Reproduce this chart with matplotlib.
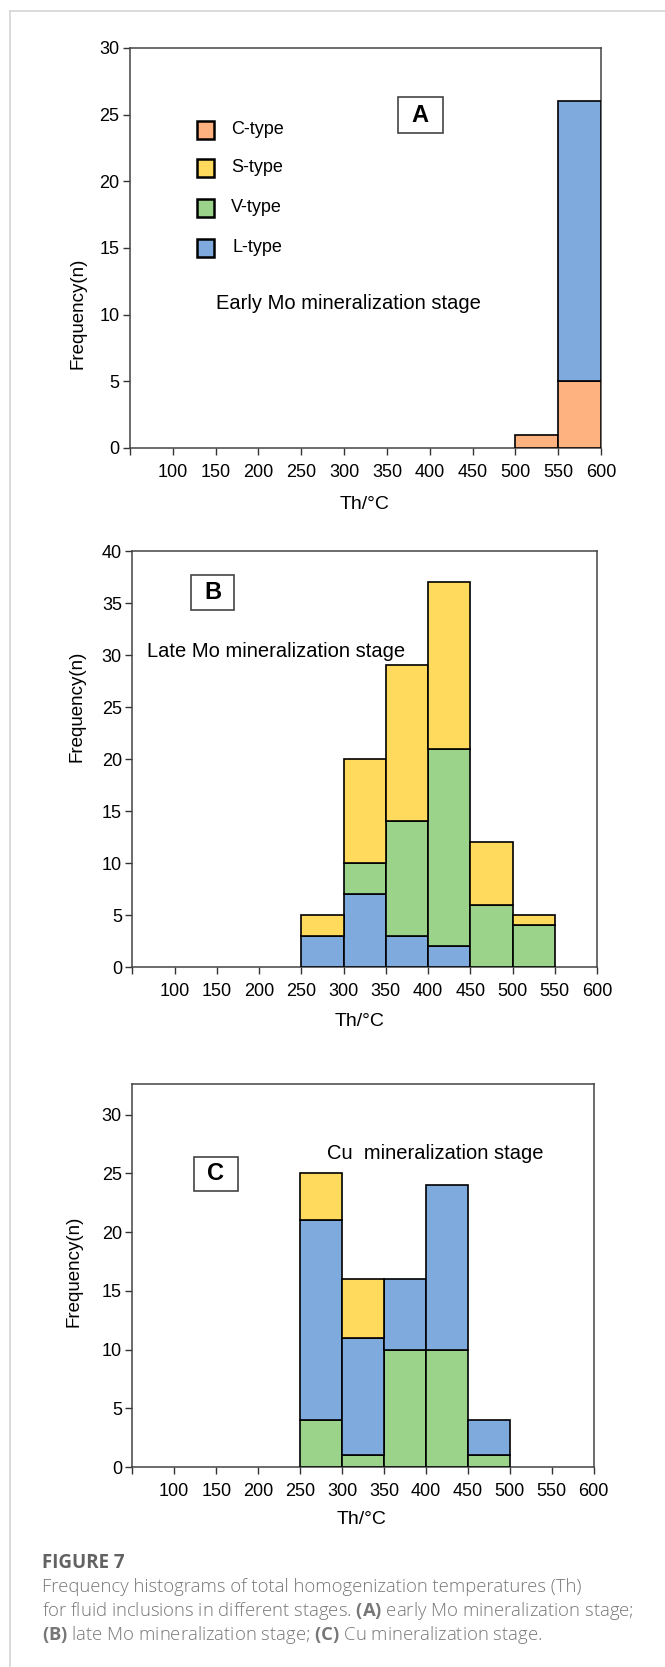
import numpy as np
import matplotlib
matplotlib.use("Agg")
import matplotlib.pyplot as plt
from matplotlib.patches import Rectangle

plt.rcParams['font.family'] = ['Liberation Sans', 'DejaVu Sans']
plt.rcParams['mathtext.fontset'] = 'custom'
plt.rcParams['mathtext.bf'] = 'Open Sans:bold'

# bin left edges (Th, degC), bins are 50 wide
bin_left = [50, 100, 150, 200, 250, 300, 350, 400, 450, 500, 550]

# (A) early Mo stage
c_type_a = [0, 0, 0, 0, 0, 0, 0, 0, 0, 1, 5]
l_type_a = [0, 0, 0, 0, 0, 0, 0, 0, 0, 0, 21]

# (B) late Mo stage
l_type_b = [0, 0, 0, 0, 3, 7, 3, 2, 0, 0, 0]
v_type_b = [0, 0, 0, 0, 0, 3, 11, 19, 6, 4, 0]
s_type_b = [0, 0, 0, 0, 2, 10, 15, 16, 6, 1, 0]

# (C) Cu stage
v_type_c = [0, 0, 0, 0, 4, 1, 10, 10, 1, 0, 0]
l_type_c = [0, 0, 0, 0, 17, 10, 6, 14, 3, 0, 0]
s_type_c = [0, 0, 0, 0, 4, 5, 0, 0, 0, 0, 0]

x_ticks = [50, 100, 150, 200, 250, 300, 350, 400, 450, 500, 550, 600]
x_labels = ['', '100', '150', '200', '250', '300', '350', '400', '450', '500', '550', '600']

COL = {'C': '#FDB27F', 'S': '#FFDA5C', 'V': '#9BD38B', 'L': '#7EAADD'}
W, H = 665, 1667


def fx(px):
    return px / W


def fy(py):
    return 1 - py / H


def stacked(ax, series):
    """series: list of (counts, color), bottom to top"""
    bottom = np.zeros(len(bin_left))
    for counts, color in series:
        counts = np.array(counts, dtype=float)
        mask = counts > 0
        ax.bar(np.array(bin_left)[mask], counts[mask], width=50, align='edge',
               bottom=bottom[mask], color=color, edgecolor='black', linewidth=1.2, zorder=3)
        bottom += counts


def style(ax, ymax, yticks):
    ax.set_xlim(50, 600)
    ax.set_ylim(0, ymax)
    ax.set_xticks(x_ticks)
    ax.set_xticklabels(x_labels)
    ax.set_yticks(yticks)
    ax.tick_params(axis='x', direction='out', length=5, width=1, pad=6.5,
                   labelsize=13, color='#333333')
    ax.tick_params(axis='y', direction='out', length=5, width=1, pad=2.5,
                   labelsize=13, color='#333333')
    for s in ax.spines.values():
        s.set_color('#444444')
        s.set_linewidth(1.1)


def letter_box(ax, x0, x1, y0, y1, letter):
    ax.add_patch(Rectangle((x0, y0), x1 - x0, y1 - y0, facecolor='white',
                           edgecolor='#444444', linewidth=1.2, zorder=4))
    ax.text((x0 + x1) / 2, (y0 + y1) / 2, letter, ha='center', va='center',
            fontsize=17, fontweight='bold', zorder=5)


fig = plt.figure(figsize=(6.65, 16.67), dpi=100)

# page frame
fig.add_artist(plt.Line2D([fx(10), fx(10)], [fy(11), 0], color='#d4d4d4', lw=1.2))
fig.add_artist(plt.Line2D([fx(10), 1], [fy(11), fy(11)], color='#d4d4d4', lw=1.2))

# ---- panel A
ax_a = fig.add_axes([fx(130), fy(448), (601 - 130) / W, 400 / H])
stacked(ax_a, [(c_type_a, COL['C']), (l_type_a, COL['L'])])
style(ax_a, 30, [0, 5, 10, 15, 20, 25, 30])
letter_box(ax_a, 363, 415, 23.6, 26.35, 'A')
legend_items = [('C-type', COL['C'], 23.85), ('S-type', COL['S'], 21.0),
                ('V-type', COL['V'], 18.0), ('L-type', COL['L'], 15.0)]
for name, color, yc in legend_items:
    ax_a.add_patch(Rectangle((128, yc - 0.65), 20, 1.3, facecolor=color,
                             edgecolor='black', linewidth=1.8, zorder=4))
    ax_a.text(170 if name == 'L-type' else 168, yc, name, ha='left', va='center', fontsize=13)
ax_a.text(150.5, 10.85, 'Early Mo mineralization stage', ha='left', va='center', fontsize=14.5)
fig.text(fx(365), fy(504), 'Th/°C', ha='center', va='center', fontsize=14)
fig.text(fx(78), fy(313), 'Frequency(n)', ha='center', va='center', rotation=90, fontsize=13.5)

# ---- panel B
ax_b = fig.add_axes([fx(132.3), fy(967), (597.1 - 132.3) / W, 416 / H])
stacked(ax_b, [(l_type_b, COL['L']), (v_type_b, COL['V']), (s_type_b, COL['S'])])
style(ax_b, 40, [0, 5, 10, 15, 20, 25, 30, 35, 40])
letter_box(ax_b, 120, 170.7, 34.3, 37.7, 'B')
ax_b.text(67.4, 30.3, 'Late Mo mineralization stage', ha='left', va='center', fontsize=14.5)
fig.text(fx(360), fy(1021.7), 'Th/°C', ha='center', va='center', fontsize=14)
fig.text(fx(77), fy(706.7), 'Frequency(n)', ha='center', va='center', rotation=90, fontsize=13.5)

# ---- panel C
ax_c = fig.add_axes([fx(132.3), fy(1467), (593.7 - 132.3) / W, 383 / H])
stacked(ax_c, [(v_type_c, COL['V']), (l_type_c, COL['L']), (s_type_c, COL['S'])])
style(ax_c, 32.6, [0, 5, 10, 15, 20, 25, 30])
letter_box(ax_c, 123.5, 176, 23.5, 26.4, 'C')
ax_c.text(281.5, 26.7, 'Cu  mineralization stage', ha='left', va='center', fontsize=14.5)
fig.text(fx(361.7), fy(1519), 'Th/°C', ha='center', va='center', fontsize=14)
fig.text(fx(73.5), fy(1271), 'Frequency(n)', ha='center', va='center', rotation=90, fontsize=13.5)

# ---- caption
cap = ['Open Sans', 'DejaVu Sans']
fig.text(fx(42), fy(1563), 'FIGURE 7', ha='left', va='center', fontsize=13.5,
         fontweight='bold', color='#626262', family=cap)
fig.text(fx(42), fy(1587), 'Frequency histograms of total homogenization temperatures (Th)',
         ha='left', va='center', fontsize=13.3, color='#777777', family=cap, fontweight='light')
fig.text(fx(42), fy(1611),
         'for fluid inclusions in different stages. $\\mathbf{(A)}$ early Mo mineralization stage;',
         ha='left', va='center', fontsize=13.3, color='#777777', family=cap, fontweight='light')
fig.text(fx(42), fy(1635), '$\\mathbf{(B)}$ late Mo mineralization stage; $\\mathbf{(C)}$ Cu mineralization stage.',
         ha='left', va='center', fontsize=13.3, color='#777777', family=cap, fontweight='light')

fig.savefig('out.png', dpi=100)
